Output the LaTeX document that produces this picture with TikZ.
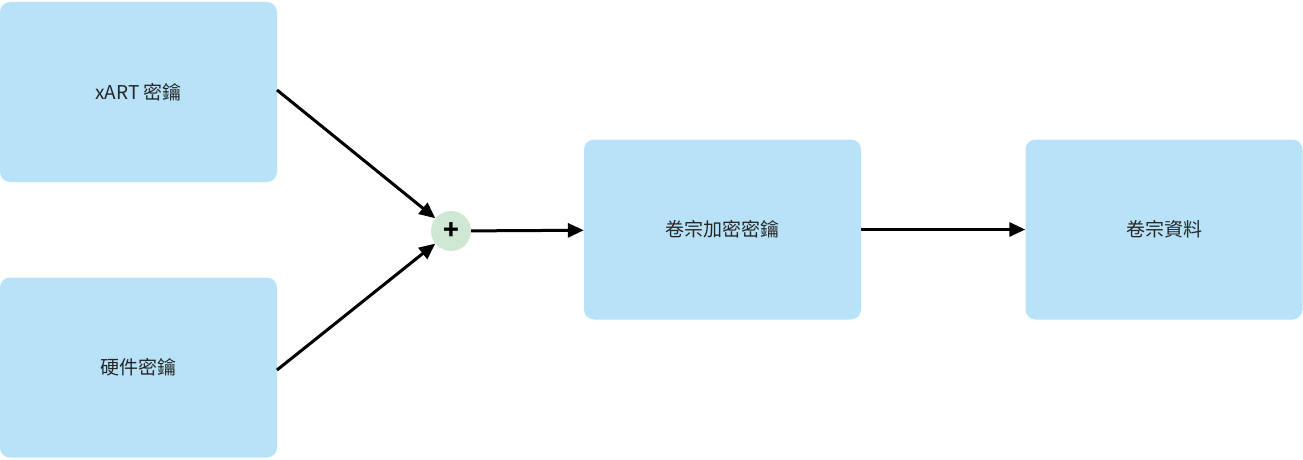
\documentclass[tikz,border=0pt]{standalone}
\usepackage{fontspec}
\setmainfont{Noto Sans CJK TC}
\usetikzlibrary{arrows.meta}
\definecolor{boxc}{HTML}{B8E2F8}
\definecolor{plusc}{HTML}{CFE8D4}
\tikzset{
  kbox/.style={fill=boxc,draw=none,rounded corners=10pt,minimum width=277pt,minimum height=180pt,font=\fontsize{19}{22}\selectfont,text=black!85},
  conn/.style={line width=3pt,-{Triangle[length=16pt,width=14pt]}}
}
\begin{document}
\begin{tikzpicture}[x=1pt,y=-1pt]
\useasboundingbox (0,0) rectangle (1303,460);
\node[kbox] (xart) at (138.5,92) {xART 密鑰};
\node[kbox] (hw) at (138.5,367.5) {硬件密鑰};
\node[kbox] (vek) at (722.5,229.5) {卷宗加密密鑰};
\node[kbox] (vd) at (1164,229.5) {卷宗資料};
\node[circle,fill=plusc,minimum size=40pt,inner sep=0pt,font=\fontsize{26}{26}\selectfont\bfseries] (plus) at (451,231) {+};
\draw[conn] (277,90) -- (plus);
\draw[conn] (277,370) -- (plus);
\draw[conn] (plus) -- (vek);
\draw[conn] (vek) -- (vd);
\end{tikzpicture}
\end{document}
